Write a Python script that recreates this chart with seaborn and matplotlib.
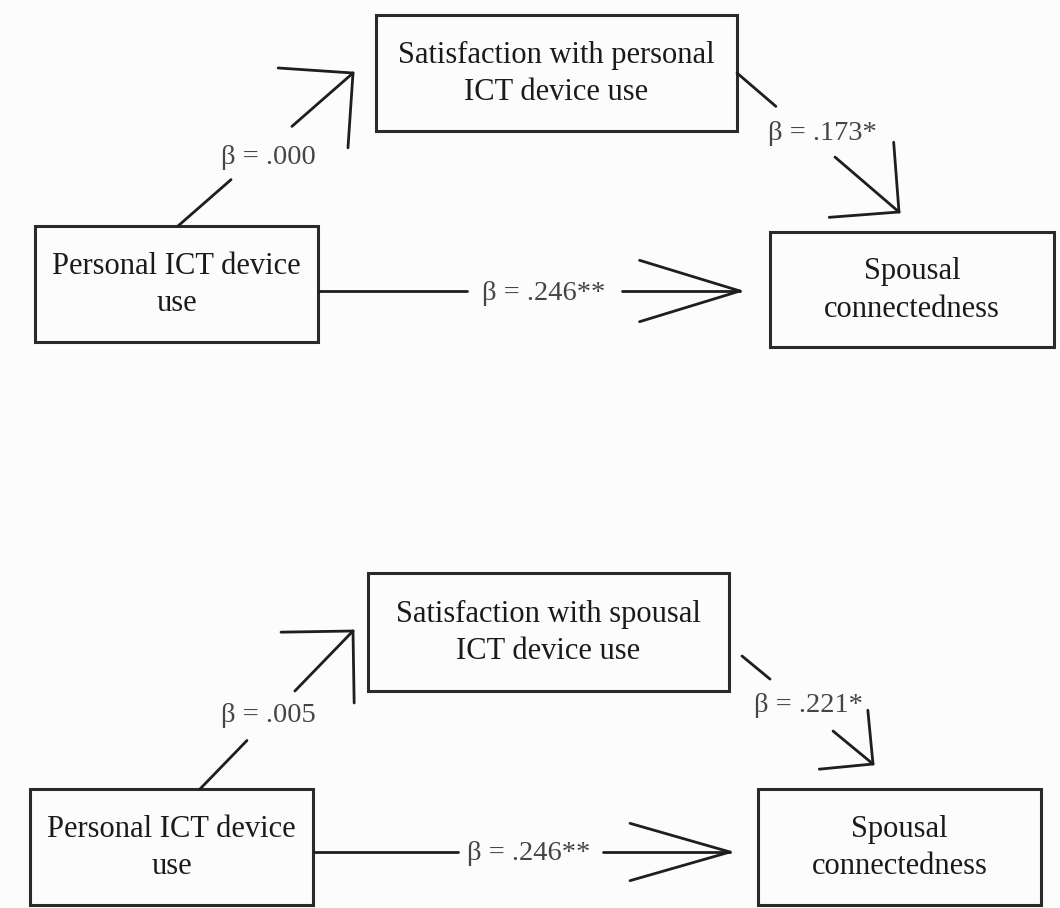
"""
Две медиационные модели: путевые диаграммы с коэффициентами beta.
"""

import numpy as np
import pandas as pd
import matplotlib
matplotlib.use("Agg")
import matplotlib.pyplot as plt
from matplotlib.patches import Rectangle
import seaborn as sns

# 1. Данные: подписи узлов и коэффициенты путей (верхняя и нижняя модель)
predictor = ["Personal ICT device\nuse", "Personal ICT device\nuse"]
mediator = ["Satisfaction with personal\nICT device use",
            "Satisfaction with spousal\nICT device use"]
outcome = ["Spousal\nconnectedness", "Spousal\nconnectedness"]
beta_a = [".000", ".005"]     # predictor -> mediator
beta_b = [".173*", ".221*"]   # mediator -> outcome
beta_c = [".246**", ".246**"] # predictor -> outcome

# 2. Раскладка (пиксели, ось y вниз)
boxes = [
    {"pred": (35, 226, 318, 342), "med": (376, 15, 737, 131), "out": (770, 232, 1054, 347)},
    {"pred": (30, 789, 313, 905), "med": (368, 573, 729, 691), "out": (758, 789, 1041, 905)},
]
# start, tip, разрыв под подпись (доли длины), центр подписи, длина и угол наконечника
edges = [
    {"a": ((178, 226), (353, 73), (0.303, 0.651), (268, 157), 75, 45),
     "b": ((737, 73), (899, 212), (0.24, 0.605), (822, 134), 70, 45),
     "c": ((318, 291), (740, 291), (0.353, 0.72), (544, 293), 105, 17)},
    {"a": ((200, 789), (353, 631), (0.307, 0.62), (268, 715), 72, 45),
     "b": ((742, 656), (873, 764), (0.214, 0.695), (808, 705), 54, 45),
     "c": ((314, 852), (730, 852), (0.346, 0.695), (529, 853), 104, 16)},
]

sns.set_theme(style="white")
plt.rcParams["font.family"] = ["Liberation Serif", "DejaVu Serif"]

W, H = 1060, 908
fig = plt.figure(figsize=(W / 100, H / 100), dpi=100, facecolor="#fcfcfc")
ax = fig.add_axes([0, 0, 1, 1])
ax.set_facecolor("#fcfcfc")

# 3. Сбор отрезков стрелок в одну таблицу
rows = []
seg_id = 0
labels = []
for p in range(2):
    betas = {"a": beta_a[p], "b": beta_b[p], "c": beta_c[p]}
    for key, (s, t, gap, lab_xy, hl, ang) in edges[p].items():
        s = np.array(s, float)
        t = np.array(t, float)
        pieces = [(s, s + (t - s) * gap[0]), (s + (t - s) * gap[1], t)]
        # наконечник: два уса от острия
        back = (s - t) / np.linalg.norm(s - t)
        for sign in (1, -1):
            a = np.deg2rad(sign * ang)
            rot = np.array([[np.cos(a), -np.sin(a)], [np.sin(a), np.cos(a)]])
            pieces.append((t, t + rot @ back * hl))
        for p0, p1 in pieces:
            rows.append({"seg": seg_id, "x": p0[0], "y": p0[1]})
            rows.append({"seg": seg_id, "x": p1[0], "y": p1[1]})
            seg_id += 1
        labels.append((lab_xy, "\u03b2 = " + betas[key]))

segs = pd.DataFrame(rows)
sns.lineplot(data=segs, x="x", y="y", units="seg", estimator=None, sort=False,
             color="#1e1e1e", lw=2.0, ax=ax, legend=False)
ax.set_xlim(0, W)
ax.set_ylim(H, 0)
ax.axis("off")

# 4. Прямоугольники и тексты узлов
for p in range(2):
    texts = {"pred": predictor[p], "med": mediator[p], "out": outcome[p]}
    for key, (x0, y0, x1, y1) in boxes[p].items():
        ax.add_patch(Rectangle((x0, y0), x1 - x0, y1 - y0, fill=False,
                               ec="#2a2a2a", lw=2.2))
        ax.text((x0 + x1) / 2, (y0 + y1) / 2 + 1, texts[key], ha="center",
                va="center", fontsize=22, color="#1a1a1a", linespacing=1.38)

for (x, y), txt in labels:
    ax.text(x, y, txt, ha="center", va="center", fontsize=20.5, color="#454545")

fig.savefig("out.png", dpi=100, facecolor=fig.get_facecolor())
plt.close(fig)
